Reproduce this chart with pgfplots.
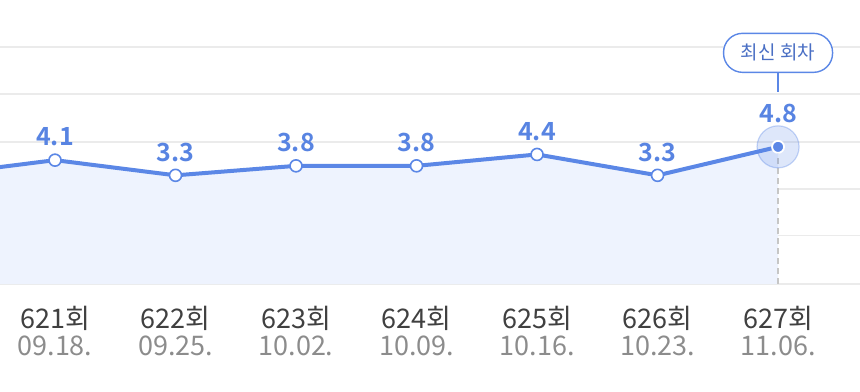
\documentclass[border=0pt]{standalone}
\usepackage{pgfplots}
\pgfplotsset{compat=1.18}
\usepackage{fontspec}
\setmainfont{Noto Sans CJK KR}[BoldFont={Noto Sans CJK KR Bold}]
\definecolor{lineblue}{HTML}{5B87E6}
\definecolor{labelblue}{HTML}{5884E2}
\definecolor{areablue}{HTML}{EEF3FE}
\definecolor{gridgray}{HTML}{EBEBEB}
\definecolor{tickdark}{HTML}{404040}
\definecolor{tickgray}{HTML}{8C8C8C}
\definecolor{callouttext}{HTML}{4A6FC4}
\begin{document}
\begin{tikzpicture}
\useasboundingbox (0,0) rectangle (430pt,195.5pt);
\begin{axis}[
  at={(0pt,53.5pt)}, anchor=south west,
  scale only axis, width=430pt, height=142pt,
  xmin=0.5436, xmax=7.68, ymin=-2.42, ymax=12.53,
  axis line style={draw=none}, major tick length=0,
  ytick={-2.42,0.12,2.58,5.06,7.59,10.06}, yticklabels={},
  ymajorgrids, grid style={color=gridgray, line width=0.7pt},
  xtick={1,2,3,4,5,6,7},
  xticklabels={
    {\color{tickdark}621회\\[-2pt]\color{tickgray}09.18.},
    {\color{tickdark}622회\\[-2pt]\color{tickgray}09.25.},
    {\color{tickdark}623회\\[-2pt]\color{tickgray}10.02.},
    {\color{tickdark}624회\\[-2pt]\color{tickgray}10.09.},
    {\color{tickdark}625회\\[-2pt]\color{tickgray}10.16.},
    {\color{tickdark}626회\\[-2pt]\color{tickgray}10.23.},
    {\color{tickdark}627회\\[-2pt]\color{tickgray}11.06.}},
  xticklabel style={align=center, font=\fontsize{13.5}{15.5}\selectfont, yshift=-7.5pt},
]
% area under the line
\addplot[fill=areablue, draw=none] coordinates {(0,-2.42) (0,3.3) (1,4.1) (2,3.3) (3,3.8) (4,3.8) (5,4.4) (6,3.3) (7,4.8) (7,-2.42)};
% dashed drop line at latest point
\addplot[densely dashed, color=gray!45, line width=0.6pt] coordinates {(7,-2.42) (7,4.8)};
% main line
\addplot[color=lineblue, line width=2pt, line join=round, mark=none] coordinates {(0,3.3) (1,4.1) (2,3.3) (3,3.8) (4,3.8) (5,4.4) (6,3.3) (7,4.8)};
% halo at latest point
\addplot[only marks, mark=*, mark size=10.5pt, mark options={fill=lineblue, fill opacity=0.2, draw=lineblue, draw opacity=0.35, line width=0.6pt}] coordinates {(7,4.8)};
% regular markers with labels
\addplot[only marks, mark=*, mark size=3pt, mark options={fill=white, draw=lineblue, line width=0.8pt},
  point meta=explicit symbolic, nodes near coords,
  nodes near coords style={font=\bfseries\fontsize{12.5}{14}\selectfont, text=labelblue, anchor=center, yshift=11.5pt}]
  coordinates {(1,4.1) [4.1] (2,3.3) [3.3] (3,3.8) [3.8] (4,3.8) [3.8] (5,4.4) [4.4] (6,3.3) [3.3]};
% latest point
\addplot[only marks, mark=*, mark size=3pt, mark options={fill=lineblue, draw=white, line width=0.9pt},
  point meta=explicit symbolic, nodes near coords,
  nodes near coords style={font=\bfseries\fontsize{12.5}{14}\selectfont, text=labelblue, anchor=center, yshift=16.5pt}]
  coordinates {(7,4.8) [4.8]};
% callout
\node[draw=lineblue, rounded corners=9.5pt, line width=0.7pt, fill=white, text=callouttext,
  font=\fontsize{9.5}{11}\selectfont, minimum width=54.5pt, minimum height=19.5pt, inner sep=2pt, yshift=47pt]
  (cb) at (axis cs:7,4.8) {최신 회차};
\draw[lineblue, line width=0.7pt] ([yshift=27.5pt]axis cs:7,4.8) -- (cb.south);
\end{axis}
\end{tikzpicture}
\end{document}
